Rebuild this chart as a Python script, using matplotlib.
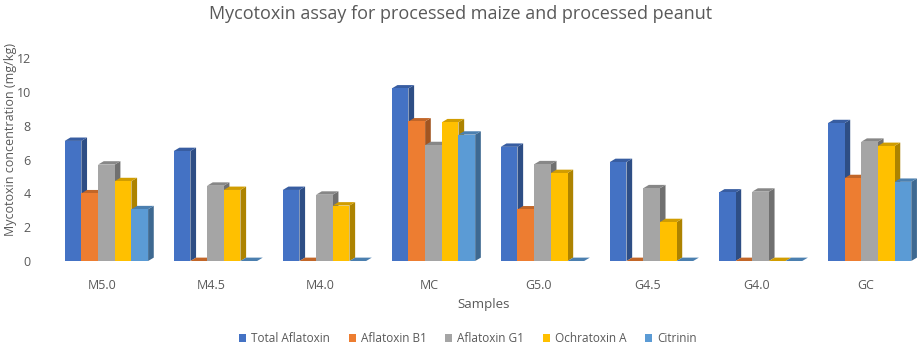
import numpy as np
import matplotlib.pyplot as plt
from matplotlib.patches import Polygon
from matplotlib.colors import to_rgb

plt.rcParams['font.family'] = ['Open Sans', 'DejaVu Sans']

samples = ['M5.0', 'M4.5', 'M4.0', 'MC', 'G5.0', 'G4.5', 'G4.0', 'GC']
series = ['Total Aflatoxin', 'Aflatoxin B1', 'Aflatoxin G1', 'Ochratoxin A', 'Citrinin']

total_aflatoxin = [7.1, 6.5, 4.2, 10.2, 6.75, 5.85, 4.05, 8.15]
aflatoxin_b1 = [4.0, 0, 0, 8.25, 3.05, 0, 0, 4.9]
aflatoxin_g1 = [5.7, 4.45, 3.92, 6.85, 5.72, 4.3, 4.1, 7.05]
ochratoxin_a = [4.72, 4.2, 3.28, 8.2, 5.2, 2.3, 0, 6.8]
citrinin = [3.06, 0, 0, 7.47, 0, 0, 0, 4.68]
values = [total_aflatoxin, aflatoxin_b1, aflatoxin_g1, ochratoxin_a, citrinin]

colors = ['#4472C4', '#ED7D31', '#A5A5A5', '#FFC000', '#5B9BD5']
txt = '#595959'


def shade(c, f):
    r, g, b = to_rgb(c)
    return (r * f, g * f, b * f)


fig = plt.figure(figsize=(9.21, 3.54), dpi=100)
ax = fig.add_axes([0.0516, 0.2627, 0.947, 0.5734])

x = np.arange(len(samples))
w = 0.153
shift = 0.04
dx, dy = 0.052, 0.2  # fake 3D depth

for k, (name, vals, c) in enumerate(zip(series, values, colors)):
    xs = x + (k - 2) * w + shift
    ax.bar(xs, vals, width=w, color=c, label=name, zorder=3)
    for xi, v in zip(xs, vals):
        x0, x1 = xi - w / 2, xi + w / 2
        if v > 0:
            side = Polygon([(x1, 0), (x1 + dx, dy), (x1 + dx, v + dy), (x1, v)],
                           closed=True, facecolor=shade(c, 0.68), edgecolor='none',
                           zorder=2, clip_on=False)
            ax.add_patch(side)
        top = Polygon([(x0, v), (x1, v), (x1 + dx, v + dy), (x0 + dx, v + dy)],
                      closed=True, facecolor=shade(c, 0.82), edgecolor='none',
                      zorder=2, clip_on=False)
        ax.add_patch(top)

ax.set_xlim(-0.5, 7.5)
ax.set_ylim(0, 12)
ax.set_yticks(range(0, 13, 2))
ax.set_xticks(x)
ax.set_xticklabels(samples)
ax.tick_params(length=0, colors=txt, labelsize=9)
ax.tick_params(axis='y', pad=12)
ax.tick_params(axis='x', pad=13)
for s in ax.spines.values():
    s.set_visible(False)

ax.set_xlabel('Samples', color=txt, fontsize=9.5, labelpad=4)
ax.set_ylabel('Mycotoxin concentration (mg/kg)', color=txt, fontsize=9)
ax.yaxis.set_label_coords(-0.035, 0.6)
fig.suptitle('Mycotoxin assay for processed maize and processed peanut',
             x=0.5, y=0.985, fontsize=13, color=txt)

fig.legend(loc='lower center', bbox_to_anchor=(0.508, -0.005), ncol=5, frameon=False,
           fontsize=8.5, handlelength=0.6, handleheight=0.6, handletextpad=0.4,
           columnspacing=1.6, labelcolor=txt)

fig.savefig('out.png', dpi=100)
